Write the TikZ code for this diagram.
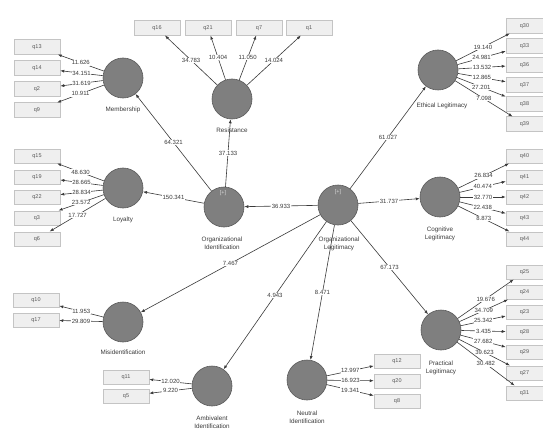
\documentclass[tikz,border=0pt]{standalone}
\usepackage{fontspec}
\setmainfont{Liberation Sans}
\usetikzlibrary{arrows.meta}
\definecolor{circfill}{HTML}{7F7F7F}
\definecolor{circline}{HTML}{5A5A5A}
\definecolor{boxfill}{HTML}{EFEFEF}
\definecolor{boxline}{HTML}{C4C4C4}
\definecolor{ink}{HTML}{3A3A3A}
\begin{document}
\begin{tikzpicture}[x=1pt,y=-1pt,
  lv/.style={circle,draw=circline,fill=circfill,line width=0.6pt,minimum size=40pt,inner sep=0pt},
  ind/.style={draw=boxline,fill=boxfill,line width=0.5pt,minimum width=46pt,minimum height=14.5pt,inner sep=0pt,font=\fontsize{5.5}{6}\selectfont,text=ink!85},
  indr/.style={ind,minimum width=37pt},
  lbl/.style={font=\fontsize{6.3}{8.5}\selectfont,text=ink,align=center,inner sep=0pt},
  conn/.style={draw=ink,line width=0.6pt,-{Latex[length=4pt,width=3pt]}},
  coef/.style={fill=white,inner sep=0.6pt,font=\fontsize{6}{6}\selectfont,text=ink},
  plus/.style={font=\fontsize{5.5}{6}\selectfont,text=white!85!black,inner sep=0pt},
]
\useasboundingbox (0,0) rectangle (543,433);
\fill[white] (0,0) rectangle (543,433);

% latent variables
\node[lv] (M) at (123,78) {};
\node[lbl] (Mt) at (123,110) {Membership};
\node[lv] (R) at (232,99) {};
\node[lbl] (Rt) at (232,130) {Resistance};
\node[lv] (E) at (438,70) {};
\node[lbl] (Et) at (442,106) {Ethical Legitimacy};
\node[lv] (L) at (123,188) {};
\node[lbl] (Lt) at (123,220) {Loyalty};
\node[lv] (OI) at (224,207) {};
\node[plus] (OIp) at (223,193) {[+]};
\node[lbl] (OIt) at (222,243) {Organizational\\Identification};
\node[lv] (OL) at (338,205) {};
\node[plus] (OLp) at (338,192) {[+]};
\node[lbl] (OLt) at (339,244) {Organizational\\Legitimacy};
\node[lv] (C) at (440,197) {};
\node[lbl] (Ct) at (440,234) {Cognitive\\Legitimacy};
\node[lv] (MI) at (123,322) {};
\node[lbl] (MIt) at (123,352) {Misidentification};
\node[lv] (A) at (212,386) {};
\node[lbl] (At) at (212,422) {Ambivalent\\Identification};
\node[lv] (N) at (307,380) {};
\node[lbl] (Nt) at (307,417) {Neutral\\Identification};
\node[lv] (P) at (441,330) {};
\node[lbl] (Pt) at (441,368) {Practical\\Legitimacy};

% indicators
\foreach \n/\y/\t in {1/47/q13,2/68/q14,3/89/q2,4/110/q9}
  \node[ind] (m\n) at (37,\y) {\t};
\foreach \n/\x/\t in {1/157/q16,2/208/q21,3/259/q7,4/309/q1}
  \node[ind] (r\n) at (\x,28) {\t};
\foreach \n/\y/\t in {1/26/q30,2/46/q33,3/65/q36,4/85/q37,5/104/q38,6/124/q39}
  \node[indr] (e\n) at (524.5,\y) {\t};
\foreach \n/\y/\t in {1/156/q40,2/177/q41,3/197/q42,4/218/q43,5/239/q44}
  \node[indr] (c\n) at (524.5,\y) {\t};
\foreach \n/\y/\t in {1/272/q25,2/292/q24,3/312/q23,4/332/q28,5/352/q29,6/373/q27,7/393/q31}
  \node[indr] (p\n) at (524.5,\y) {\t};
\foreach \n/\y/\t in {1/156/q15,2/177/q19,3/197/q22,4/218/q3,5/239/q6}
  \node[ind] (l\n) at (37,\y) {\t};
\foreach \n/\y/\t in {1/300/q10,2/320/q17}
  \node[ind] (mi\n) at (36,\y) {\t};
\foreach \n/\y/\t in {1/377/q11,2/396/q5}
  \node[ind] (a\n) at (126,\y) {\t};
\foreach \n/\y/\t in {1/361/q12,2/381/q20,3/401/q8}
  \node[ind] (n\n) at (397,\y) {\t};

% structural paths
\draw[conn] (OI) -- node[coef]{64.321} (M);
\draw[conn] (OI) -- node[coef]{37.133} (R);
\draw[conn] (OI) -- node[coef]{150.341} (L);
\draw[conn] (OL) -- node[coef]{36.933} (OI);
\draw[conn] (OL) -- node[coef]{61.027} (E);
\draw[conn] (OL) -- node[coef]{31.737} (C);
\draw[conn] (OL) -- node[coef]{67.173} (P);
\draw[conn] (OL) -- node[coef]{7.467} (MI);
\draw[conn] (OL) -- node[coef]{4.943} (A);
\draw[conn] (OL) -- node[coef]{8.471} (N);

% outer loadings
\foreach \n/\v in {1/11.626,2/34.151,3/31.619,4/10.911}
  \draw[conn] (M) -- node[coef]{\v} (m\n);
\foreach \n/\v in {1/34.783,2/10.404,3/11.050,4/14.024}
  \draw[conn] (R) -- node[coef]{\v} (r\n);
\foreach \n/\v in {1/19.140,2/24.981,3/13.532,4/12.865,5/27.201,6/7.098}
  \draw[conn] (E) -- node[coef]{\v} (e\n);
\foreach \n/\v in {1/26.834,2/40.474,3/32.770,4/22.438,5/8.873}
  \draw[conn] (C) -- node[coef]{\v} (c\n);
\foreach \n/\v in {1/19.676,2/34.709,3/25.342,4/3.435,5/27.682,6/39.623,7/30.482}
  \draw[conn] (P) -- node[coef]{\v} (p\n);
\foreach \n/\v in {1/48.630,2/28.665,3/28.834,4/23.572,5/17.727}
  \draw[conn] (L) -- node[coef]{\v} (l\n);
\foreach \n/\v in {1/11.953,2/29.809}
  \draw[conn] (MI) -- node[coef]{\v} (mi\n);
\foreach \n/\v in {1/12.020,2/9.220}
  \draw[conn] (A) -- node[coef]{\v} (a\n);
\foreach \n/\v in {1/12.997,2/16.923,3/19.341}
  \draw[conn] (N) -- node[coef]{\v} (n\n);
\end{tikzpicture}
\end{document}
